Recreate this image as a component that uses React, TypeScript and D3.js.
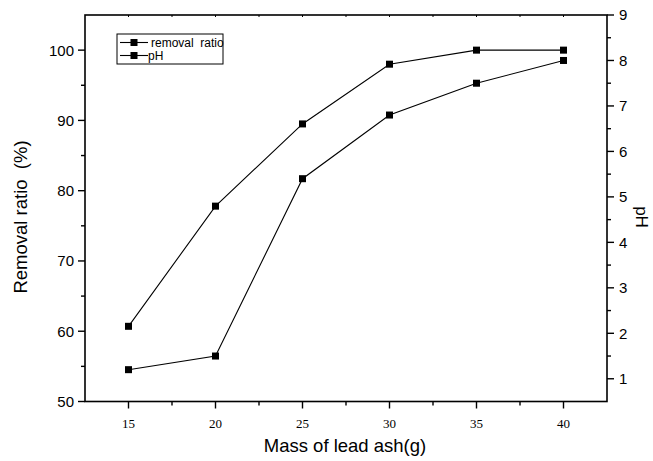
import * as d3 from "d3";

const massOfLeadAsh = [15, 20, 25, 30, 35, 40];
const removalRatio = [60.7, 77.8, 89.5, 98.0, 100, 100];
const phValues = [1.2, 1.5, 5.4, 6.8, 7.5, 8.0];

const xTicks = [15, 20, 25, 30, 35, 40];
const xMinorTicks = [17.5, 22.5, 27.5, 32.5, 37.5];
const leftTicks = [50, 60, 70, 80, 90, 100];
const leftMinorTicks = [55, 65, 75, 85, 95];
const rightTicks = [1, 2, 3, 4, 5, 6, 7, 8, 9];
const rightMinorTicks = [1.5, 2.5, 3.5, 4.5, 5.5, 6.5, 7.5, 8.5];
const topTicks = [15, 17.5, 20, 22.5, 25, 27.5, 30, 32.5, 35, 37.5, 40];

const legendItems = ["removal  ratio", "pH"];

const W = 653;
const H = 461;
const margin = { top: 15, right: 46, bottom: 59.5, left: 85 };
const SANS = "'Liberation Sans', Arial, Helvetica, sans-serif";
const SERIF = "'Liberation Serif', 'Times New Roman', serif";

export default function App() {
  const x = d3.scaleLinear().domain([12.5, 42.5]).range([margin.left, W - margin.right]);
  const yLeft = d3.scaleLinear().domain([50, 105]).range([H - margin.bottom, margin.top]);
  const yRight = d3.scaleLinear().domain([0.5, 9]).range([H - margin.bottom, margin.top]);

  const [x0, x1] = x.range();
  const [yb, yt] = yLeft.range();

  const removalLine = d3.line<number>()
    .x((_, i) => x(massOfLeadAsh[i]))
    .y(d => yLeft(d));
  const phLine = d3.line<number>()
    .x((_, i) => x(massOfLeadAsh[i]))
    .y(d => yRight(d));

  const markerSize = 7;
  const major = 7;
  const minor = 4;

  // legend geometry
  const lgX = 117, lgY = 34, lgW = 106, lgH = 30;

  return (
    <svg width={W} height={H} style={{ position: "absolute", left: 0, top: 0, background: "white" }}>
      {/* data lines */}
      <path d={removalLine(removalRatio) ?? ""} fill="none" stroke="black" strokeWidth={1.1} />
      <path d={phLine(phValues) ?? ""} fill="none" stroke="black" strokeWidth={1.1} />
      {removalRatio.map((d, i) => (
        <rect key={"r" + i} x={x(massOfLeadAsh[i]) - markerSize / 2} y={yLeft(d) - markerSize / 2}
          width={markerSize} height={markerSize} fill="black" />
      ))}
      {phValues.map((d, i) => (
        <rect key={"p" + i} x={x(massOfLeadAsh[i]) - markerSize / 2} y={yRight(d) - markerSize / 2}
          width={markerSize} height={markerSize} fill="black" />
      ))}

      {/* frame */}
      <rect x={x0} y={yt} width={x1 - x0} height={yb - yt} fill="none" stroke="black" strokeWidth={1.6} />

      {/* bottom axis */}
      {xTicks.map(t => (
        <g key={"xt" + t}>
          <line x1={x(t)} x2={x(t)} y1={yb} y2={yb + major} stroke="black" strokeWidth={1.4} />
          <text x={x(t)} y={yb + 26} textAnchor="middle" fontFamily={SERIF} fontSize={13}>{t}</text>
        </g>
      ))}
      {xMinorTicks.map(t => (
        <line key={"xm" + t} x1={x(t)} x2={x(t)} y1={yb} y2={yb + minor} stroke="black" strokeWidth={1.4} />
      ))}
      {topTicks.map(t => (
        <line key={"tt" + t} x1={x(t)} x2={x(t)} y1={yt} y2={yt + 2} stroke="black" strokeWidth={1} />
      ))}

      {/* left axis */}
      {leftTicks.map(t => (
        <g key={"lt" + t}>
          <line x1={x0} x2={x0 - major} y1={yLeft(t)} y2={yLeft(t)} stroke="black" strokeWidth={1.4} />
          <text x={x0 - 11} y={yLeft(t)} dy="0.36em" textAnchor="end" fontFamily={SANS} fontSize={15}>{t}</text>
        </g>
      ))}
      {leftMinorTicks.map(t => (
        <line key={"lm" + t} x1={x0} x2={x0 - minor} y1={yLeft(t)} y2={yLeft(t)} stroke="black" strokeWidth={1.4} />
      ))}

      {/* right axis */}
      {rightTicks.map(t => (
        <g key={"rt" + t}>
          <line x1={x1} x2={x1 + major} y1={yRight(t)} y2={yRight(t)} stroke="black" strokeWidth={1.4} />
          <text x={x1 + 12} y={yRight(t)} dy="0.36em" textAnchor="start" fontFamily={SANS} fontSize={15}>{t}</text>
        </g>
      ))}
      {rightMinorTicks.map(t => (
        <line key={"rm" + t} x1={x1} x2={x1 + minor} y1={yRight(t)} y2={yRight(t)} stroke="black" strokeWidth={1.4} />
      ))}

      {/* axis titles */}
      <text x={(x0 + x1) / 2 - 1} y={H - 9} textAnchor="middle" fontFamily={SANS} fontSize={18.5}>Mass of lead ash(g)</text>
      <text transform="translate(27, 217) rotate(-90)" textAnchor="middle" fontFamily={SANS}
        fontSize={18.5} style={{ whiteSpace: "pre" }}>Removal ratio  (%)</text>
      <text transform="translate(636, 217) rotate(90)" textAnchor="middle" fontFamily={SANS}
        fontSize={17}>pH</text>

      {/* legend */}
      <rect x={lgX} y={lgY} width={lgW} height={lgH} fill="white" stroke="black" strokeWidth={1} />
      {legendItems.map((name, i) => {
        const cy = lgY + 8.5 + i * 13;
        return (
          <g key={name}>
            <line x1={lgX + 3} x2={lgX + 31} y1={cy} y2={cy} stroke="black" strokeWidth={1.1} />
            <rect x={lgX + 17 - markerSize / 2} y={cy - markerSize / 2} width={markerSize} height={markerSize} fill="black" />
            <text x={i === 0 ? lgX + 34 : lgX + 31} y={cy} dy="0.36em" fontFamily={SANS} fontSize={12}
              style={{ whiteSpace: "pre" }}>{name}</text>
          </g>
        );
      })}
    </svg>
  );
}
